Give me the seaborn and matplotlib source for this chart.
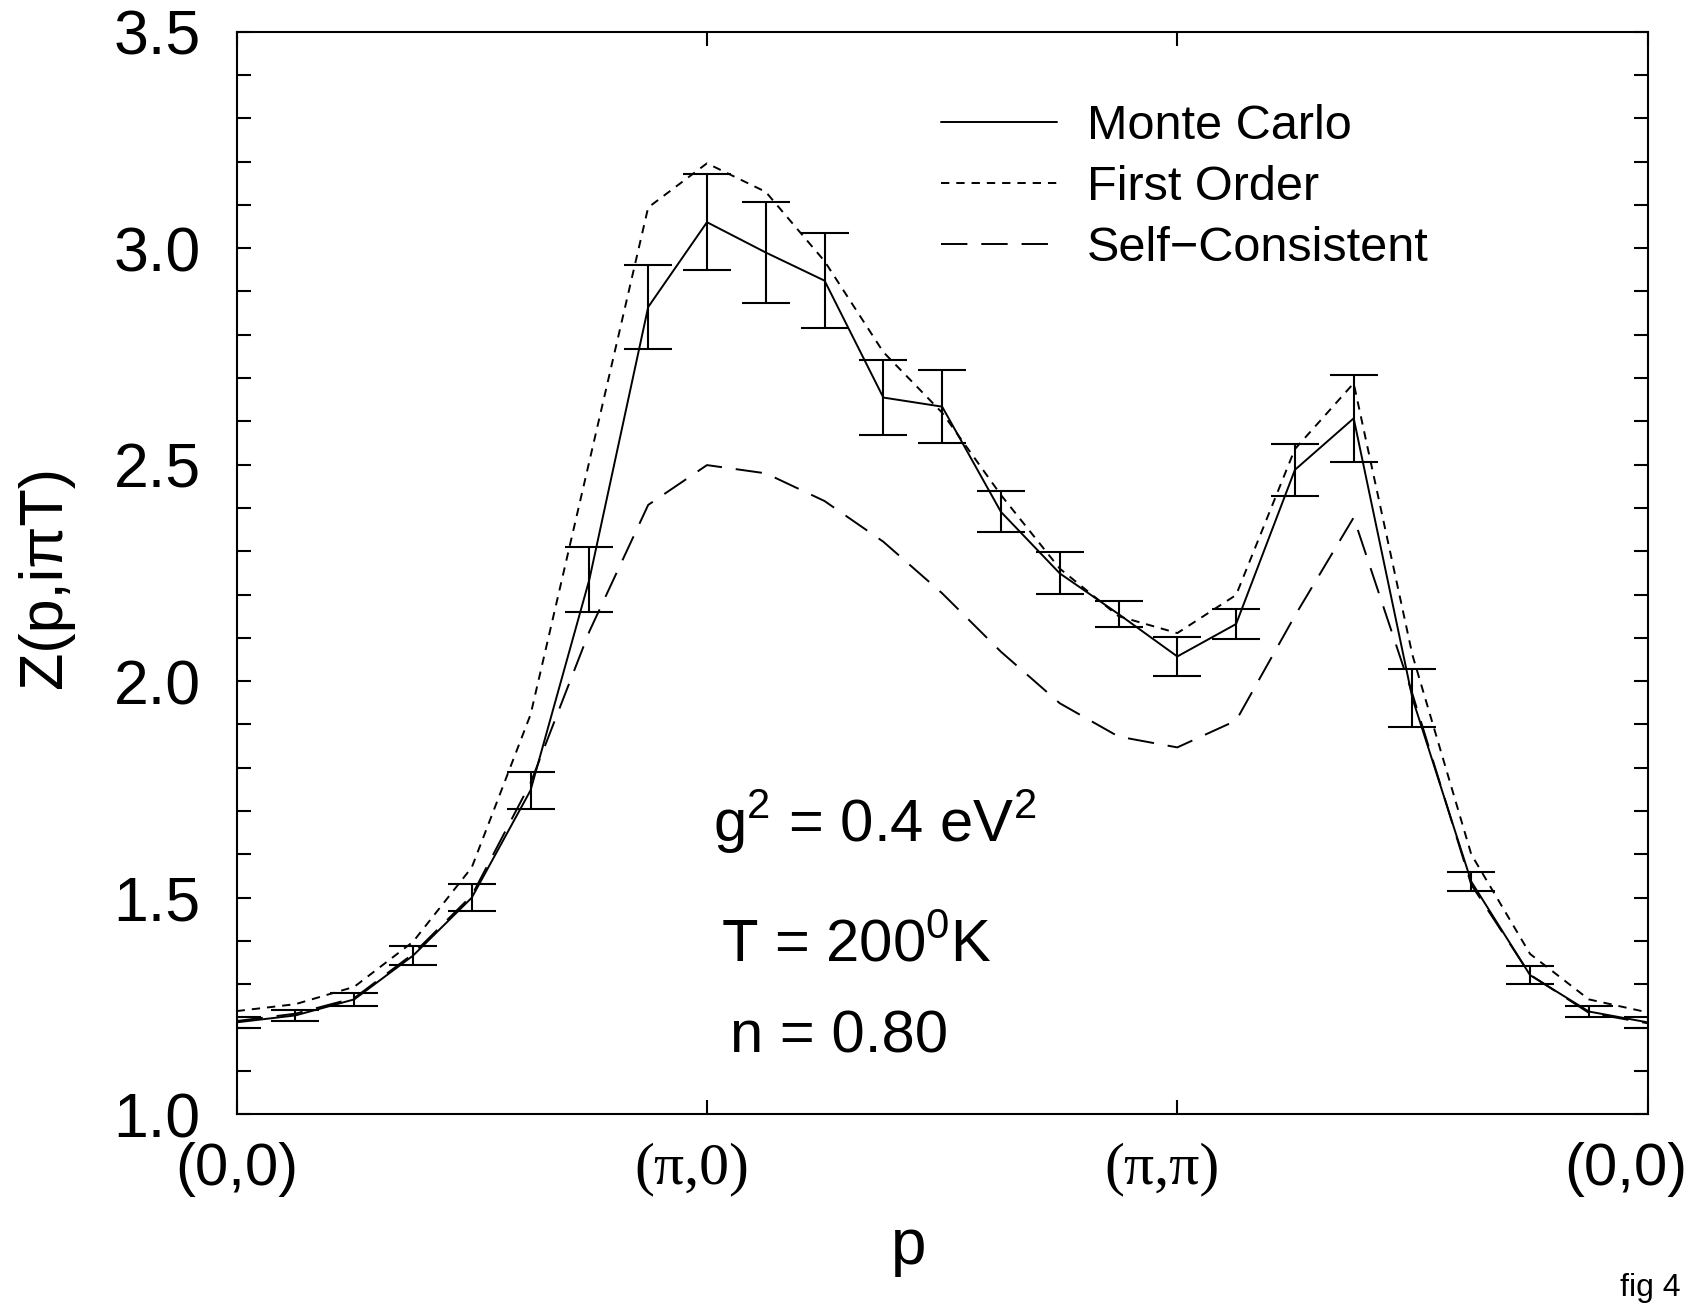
import matplotlib
matplotlib.use("Agg")
import matplotlib.pyplot as plt
from matplotlib.ticker import MultipleLocator, FormatStrFormatter
from matplotlib.transforms import ScaledTranslation
import seaborn as sns
import pandas as pd

# k-path: (0,0) -> (pi,0) -> (pi,pi) -> (0,0), 8 steps per segment
k_index = list(range(25))
k_ticks = [0, 8, 16, 24]
k_labels = ["(0,0)", "(\u03c0,0)", "(\u03c0,\u03c0)", "(0,0)"]

monte_carlo = [1.212, 1.228, 1.265, 1.366, 1.500, 1.748, 2.235, 2.864, 3.060, 2.990,
               2.925, 2.655, 2.634, 2.391, 2.249, 2.155, 2.057, 2.132, 2.488, 2.607,
               1.960, 1.537, 1.321, 1.237, 1.212]
mc_error = [0.0125, 0.0135, 0.0145, 0.0225, 0.0315, 0.0425, 0.076, 0.0975, 0.1115, 0.1155,
            0.109, 0.0875, 0.084, 0.0475, 0.0485, 0.0305, 0.0455, 0.035, 0.0605, 0.100,
            0.067, 0.0215, 0.0205, 0.0135, 0.0125]
first_order = [1.238, 1.254, 1.294, 1.398, 1.570, 1.923, 2.508, 3.094, 3.196, 3.130,
               2.970, 2.760, 2.620, 2.430, 2.260, 2.150, 2.111, 2.199, 2.536, 2.688,
               2.060, 1.600, 1.370, 1.265, 1.235]
self_consistent = [1.215, 1.232, 1.268, 1.370, 1.505, 1.765, 2.115, 2.407, 2.499, 2.480,
                   2.416, 2.322, 2.203, 2.068, 1.949, 1.872, 1.847, 1.909, 2.151, 2.378,
                   1.970, 1.530, 1.322, 1.234, 1.210]

sns.set_style("ticks")
plt.rcParams["font.family"] = ["Liberation Sans", "DejaVu Sans"]
plt.rcParams["mathtext.fontset"] = "custom"
plt.rcParams["mathtext.rm"] = "Liberation Sans"
plt.rcParams["lines.scale_dashes"] = False
for key in ["text.color", "axes.labelcolor", "xtick.color", "ytick.color", "axes.edgecolor"]:
    plt.rcParams[key] = "black"

df = pd.DataFrame({
    "k": k_index,
    "Monte Carlo": monte_carlo,
    "First Order": first_order,
    "Self\u2212Consistent": self_consistent,
})
long_df = df.melt(id_vars="k", var_name="model", value_name="Z")

fig = plt.figure(figsize=(17.06, 13.04), dpi=100)
ax = fig.add_axes([0.1387, 0.1456, 0.8271, 0.8301])

sns.lineplot(data=long_df, x="k", y="Z", style="model", color="black", linewidth=1.4,
             dashes={"Monte Carlo": "", "First Order": (6, 5),
                     "Self\u2212Consistent": (19, 10)},
             ax=ax)
ax.errorbar(k_index, monte_carlo, yerr=mc_error, fmt="none", ecolor="black",
            elinewidth=1.5, capsize=17.5, capthick=1.5)

handles, labels = ax.get_legend_handles_labels()
ax.legend(handles[-3:], labels[-3:], loc="upper left",
          bbox_to_anchor=(917 / 1706, 1 - 80 / 1304), bbox_transform=fig.transFigure,
          frameon=False, fontsize=35, handlelength=2.37, handletextpad=0.62,
          borderpad=0, labelspacing=0.33)

ax.set_xlim(0, 24)
ax.set_ylim(1.0, 3.5)
ax.set_xticks(k_ticks)
ax.set_xticklabels(k_labels)
ax.yaxis.set_major_locator(MultipleLocator(0.5))
ax.yaxis.set_minor_locator(MultipleLocator(0.1))
ax.yaxis.set_major_formatter(FormatStrFormatter("%.1f"))
ax.tick_params(which="both", direction="in", length=10, width=1.5,
               top=True, right=True)
ax.tick_params(axis="x", pad=20, labelsize=43)
ax.tick_params(axis="y", pad=26, labelsize=45)
for sp in ax.spines.values():
    sp.set_linewidth(1.5)
ax.set_xlabel("")
ax.set_ylabel("")

# nudge the path labels left, as in the original figure
shifts = [0, -15, -15, -22]
for i, lab in enumerate(ax.get_xticklabels()):
    if i in (1, 2):
        lab.set_fontfamily("Liberation Serif")
    lab.set_transform(lab.get_transform() +
                      ScaledTranslation(shifts[i] / 100, 0, fig.dpi_scale_trans))

ax.text(8.1, 1.675, r"g$^\mathregular{2}$ = 0.4 eV$^\mathregular{2}$", fontsize=43,
        ha="left", va="center")
ax.text(8.24, 1.39, r"T = 200$^\mathregular{0}$K", fontsize=43, ha="left", va="center")
ax.text(8.39, 1.178, "n = 0.80", fontsize=43, ha="left", va="center")

fig.text(46 / 1706, 1 - 577 / 1304, "Z(p,i\u03c0T)", rotation=90, fontsize=44,
         ha="center", va="center")
fig.text(909 / 1706, 1 - 1247 / 1304, "p", fontsize=46, ha="center", va="center")
fig.text(1650 / 1706, 1 - 1288 / 1304, "fig 4", fontsize=23, ha="center", va="center")

fig.savefig("out.png", dpi=100)
